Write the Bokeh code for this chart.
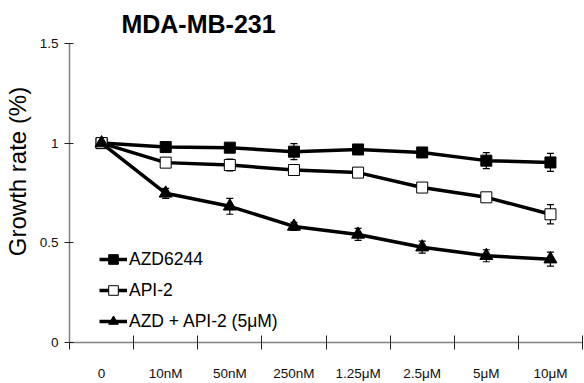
from bokeh.plotting import figure
from bokeh.models import (FactorRange, LinearAxis, FixedTicker, ColumnDataSource,
                          Whisker, TeeHead, Legend, LegendItem, Label)
from bokeh.embed import file_html
from bokeh.resources import INLINE

categories = ["0", "10nM", "50nM", "250nM", "1.25\u03bcM", "2.5\u03bcM", "5\u03bcM", "10\u03bcM"]
azd = [1.0, 0.98, 0.977, 0.957, 0.968, 0.953, 0.912, 0.903]
azd_err = [0.01, 0.015, 0.015, 0.04, 0.015, 0.015, 0.04, 0.045]
api = [1.0, 0.902, 0.89, 0.865, 0.852, 0.777, 0.728, 0.643]
api_err = [0.01, 0.015, 0.03, 0.015, 0.015, 0.015, 0.015, 0.048]
combo = [1.0, 0.748, 0.683, 0.582, 0.542, 0.478, 0.435, 0.418]
combo_err = [0.01, 0.025, 0.04, 0.02, 0.03, 0.03, 0.03, 0.035]
series_names = ["AZD6244", "API-2", "AZD + API-2 (5\u03bcM)"]
y_ticks = [0, 0.5, 1, 1.5]
y_tick_labels = ["0", "0.5", "1", "1.5"]
title_text = "MDA-MB-231"
y_title = "Growth rate (%)"

SANS = "Liberation Sans"

# frame spans the full height above the x axis so the title can sit inside it;
# the y axis line itself is bounded to 0..1.5
p = figure(width=584, height=383, x_range=FactorRange(*categories, range_padding=0),
           y_range=(0, 1.715), output_backend="svg", toolbar_location=None,
           x_axis_type=None, y_axis_type=None,
           min_border_left=68, min_border_right=2, min_border_top=0, min_border_bottom=40)
p.outline_line_color = None
p.xgrid.visible = False
p.ygrid.visible = False

# x axis: labels at category centres, ticks at boundaries
n = len(categories)
xaxis = LinearAxis(ticker=FixedTicker(ticks=[i + 0.5 for i in range(n)],
                                      minor_ticks=[float(i) for i in range(n + 1)]),
                   major_label_overrides={i + 0.5: c for i, c in enumerate(categories)})
xaxis.major_tick_line_color = None
xaxis.major_tick_in = 0
xaxis.major_tick_out = 0
xaxis.minor_tick_in = 7
xaxis.minor_tick_out = 7
xaxis.minor_tick_line_color = "#222222"
xaxis.axis_line_color = "#808080"
xaxis.axis_line_width = 1.5
xaxis.major_label_standoff = 16
xaxis.major_label_text_font = SANS
xaxis.major_label_text_font_size = "13.5px"
xaxis.major_label_text_color = "#111111"
p.add_layout(xaxis, "below")

yaxis = LinearAxis(ticker=FixedTicker(ticks=y_ticks, minor_ticks=[]),
                   major_label_overrides={t: l for t, l in zip(y_ticks, y_tick_labels)},
                   bounds=(y_ticks[0], y_ticks[-1]))
yaxis.major_tick_in = 4
yaxis.major_tick_out = 5
yaxis.major_tick_line_color = "#222222"
yaxis.axis_line_color = "#808080"
yaxis.axis_line_width = 1.5
yaxis.major_label_standoff = 6
yaxis.major_label_text_font = SANS
yaxis.major_label_text_font_size = "13.5px"
yaxis.major_label_text_color = "#111111"
yaxis.axis_label = y_title
yaxis.axis_label_text_font = SANS
yaxis.axis_label_text_font_style = "normal"
yaxis.axis_label_text_font_size = "24px"
yaxis.axis_label_text_color = "black"
yaxis.axis_label_standoff = 6
p.add_layout(yaxis, "left")

def add_series(vals, errs, marker, fill, size):
    src = ColumnDataSource(dict(x=categories, y=vals,
                                up=[v + e for v, e in zip(vals, errs)],
                                lo=[v - e for v, e in zip(vals, errs)]))
    w = Whisker(base="x", upper="up", lower="lo", source=src, line_color="black",
                line_width=1.2,
                upper_head=TeeHead(size=7, line_color="black", line_width=1.2),
                lower_head=TeeHead(size=7, line_color="black", line_width=1.2))
    p.add_layout(w)
    ln = p.line("x", "y", source=src, line_color="black", line_width=3.5)
    mk = p.scatter("x", "y", source=src, marker=marker, size=size, fill_color=fill,
                   line_color="black", line_width=1)
    return [ln, mk]

r1 = add_series(azd, azd_err, "square", "black", 11)
r2 = add_series(api, api_err, "square", "white", 11)
r3 = add_series(combo, combo_err, "triangle", "black", 13)

legend = Legend(items=[LegendItem(label=series_names[0], renderers=r1),
                       LegendItem(label=series_names[1], renderers=r2),
                       LegendItem(label=series_names[2], renderers=r3)],
                location=(30, 9), padding=0, margin=0, spacing=7,
                glyph_width=28, glyph_height=24, label_height=24, label_standoff=2,
                label_text_font=SANS, label_text_font_size="17.5px",
                label_text_color="black",
                background_fill_alpha=0, border_line_color=None)
p.add_layout(legend)

p.add_layout(Label(x=129, y=319, x_units="screen", y_units="screen", text=title_text,
                   text_font=SANS, text_font_style="bold", text_font_size="25px",
                   text_align="center", text_baseline="alphabetic", text_color="black"))

open("out.html", "w").write(file_html(p, INLINE))
